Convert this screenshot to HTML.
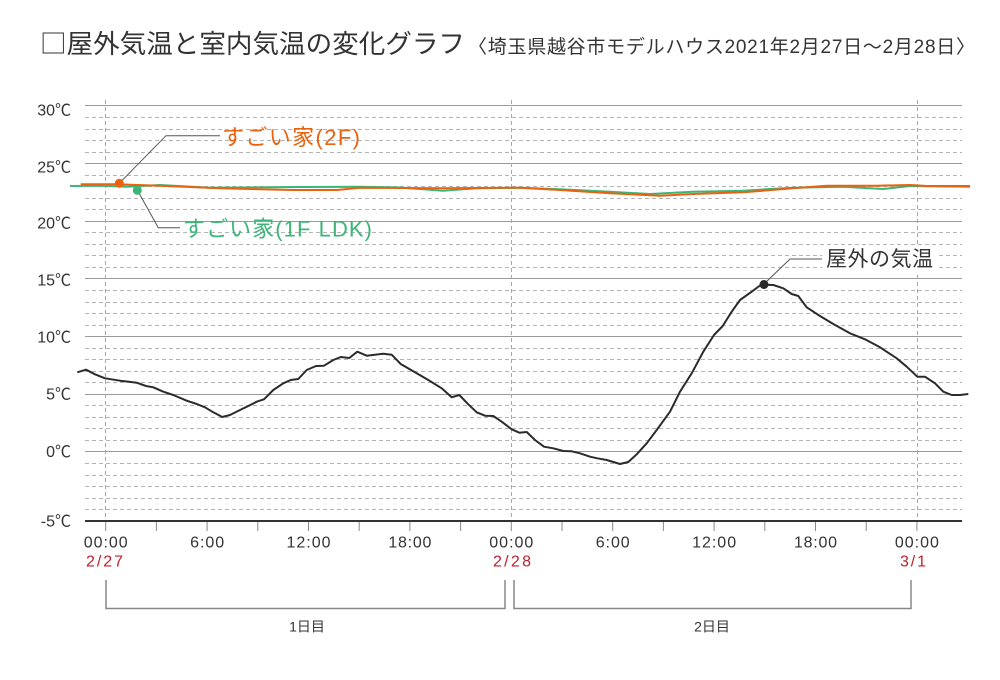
<!DOCTYPE html>
<html><head><meta charset="utf-8"><style>
html,body{margin:0;padding:0;background:#fff;}
svg{display:block;}
text{font-family:"Liberation Sans","Noto Sans CJK JP",sans-serif;}
</style></head><body>
<svg width="1000" height="680" viewBox="0 0 1000 680" xmlns="http://www.w3.org/2000/svg">
<rect width="1000" height="680" fill="#fff"/>
<!-- title -->
<text x="40" y="53" font-size="26" fill="#333" textLength="425" lengthAdjust="spacingAndGlyphs" style="font-family:'Noto Sans CJK JP',sans-serif">□屋外気温と室内気温の変化グラフ</text>
<text x="468" y="53" font-size="19" fill="#333" textLength="507" lengthAdjust="spacing">〈埼玉県越谷市モデルハウス2021年2月27日〜2月28日〉</text>

<!-- dashed horizontal grid -->
<g stroke="#b4b4b4" stroke-width="1" stroke-dasharray="4 3" fill="none">
<line x1="85" x2="962" y1="117.5" y2="117.5"/>
<line x1="85" x2="962" y1="129.5" y2="129.5"/>
<line x1="85" x2="962" y1="140.5" y2="140.5"/>
<line x1="85" x2="962" y1="152.5" y2="152.5"/>
<line x1="85" x2="962" y1="175.5" y2="175.5"/>
<line x1="85" x2="962" y1="186.5" y2="186.5"/>
<line x1="85" x2="962" y1="198.5" y2="198.5"/>
<line x1="85" x2="962" y1="209.5" y2="209.5"/>
<line x1="85" x2="962" y1="232.5" y2="232.5"/>
<line x1="85" x2="962" y1="244.5" y2="244.5"/>
<line x1="85" x2="962" y1="255.5" y2="255.5"/>
<line x1="85" x2="962" y1="267.5" y2="267.5"/>
<line x1="85" x2="962" y1="290.5" y2="290.5"/>
<line x1="85" x2="962" y1="302.5" y2="302.5"/>
<line x1="85" x2="962" y1="313.5" y2="313.5"/>
<line x1="85" x2="962" y1="325.5" y2="325.5"/>
<line x1="85" x2="962" y1="348.5" y2="348.5"/>
<line x1="85" x2="962" y1="359.5" y2="359.5"/>
<line x1="85" x2="962" y1="371.5" y2="371.5"/>
<line x1="85" x2="962" y1="382.5" y2="382.5"/>
<line x1="85" x2="962" y1="405.5" y2="405.5"/>
<line x1="85" x2="962" y1="417.5" y2="417.5"/>
<line x1="85" x2="962" y1="428.5" y2="428.5"/>
<line x1="85" x2="962" y1="440.5" y2="440.5"/>
<line x1="85" x2="962" y1="463.5" y2="463.5"/>
<line x1="85" x2="962" y1="475.5" y2="475.5"/>
<line x1="85" x2="962" y1="486.5" y2="486.5"/>
<line x1="85" x2="962" y1="498.5" y2="498.5"/>
<line x1="85" x2="962" y1="509.5" y2="509.5"/>
</g>
<!-- solid grid -->
<g stroke="#9a9a9a" stroke-width="1" fill="none">
<line x1="85" x2="962" y1="105.5" y2="105.5"/>
<line x1="85" x2="962" y1="163.5" y2="163.5"/>
<line x1="85" x2="962" y1="221.5" y2="221.5"/>
<line x1="85" x2="962" y1="278.5" y2="278.5"/>
<line x1="85" x2="962" y1="336.5" y2="336.5"/>
<line x1="85" x2="962" y1="394.5" y2="394.5"/>
<line x1="85" x2="962" y1="451.5" y2="451.5"/>
</g>
<!-- vertical dashed -->
<g stroke="#a8a8a8" stroke-width="1" stroke-dasharray="4 3" fill="none">
<line x1="105.5" x2="105.5" y1="100" y2="520"/>
<line x1="511.5" x2="511.5" y1="100" y2="520"/>
<line x1="917.5" x2="917.5" y1="100" y2="520"/>
</g>
<!-- axis -->
<line x1="85" x2="962" y1="521" y2="521" stroke="#333" stroke-width="2"/>
<g stroke="#8a8a8a" stroke-width="1">
<line x1="105.7" x2="105.7" y1="522" y2="531"/>
<line x1="156.4" x2="156.4" y1="522" y2="531"/>
<line x1="207.1" x2="207.1" y1="522" y2="531"/>
<line x1="257.8" x2="257.8" y1="522" y2="531"/>
<line x1="308.5" x2="308.5" y1="522" y2="531"/>
<line x1="359.2" x2="359.2" y1="522" y2="531"/>
<line x1="409.9" x2="409.9" y1="522" y2="531"/>
<line x1="460.6" x2="460.6" y1="522" y2="531"/>
<line x1="511.3" x2="511.3" y1="522" y2="531"/>
<line x1="562" x2="562" y1="522" y2="531"/>
<line x1="612.7" x2="612.7" y1="522" y2="531"/>
<line x1="663.4" x2="663.4" y1="522" y2="531"/>
<line x1="714.1" x2="714.1" y1="522" y2="531"/>
<line x1="764.8" x2="764.8" y1="522" y2="531"/>
<line x1="815.5" x2="815.5" y1="522" y2="531"/>
<line x1="866.2" x2="866.2" y1="522" y2="531"/>
<line x1="916.9" x2="916.9" y1="522" y2="531"/>
</g>

<!-- y labels -->
<g font-size="16" fill="#333" text-anchor="end">
<text x="71" y="115.5">30℃</text>
<text x="71" y="172.5">25℃</text>
<text x="71" y="228.5">20℃</text>
<text x="71" y="285.5">15℃</text>
<text x="71" y="342.5">10℃</text>
<text x="71" y="399.5">5℃</text>
<text x="71" y="457">0℃</text>
<text x="71" y="526.5">-5℃</text>
</g>
<!-- x labels -->
<g font-size="16" fill="#333" text-anchor="middle">
<text x="105.7" y="547.5" textLength="44" lengthAdjust="spacing">00:00</text>
<text x="207.1" y="547.5" textLength="34" lengthAdjust="spacing">6:00</text>
<text x="308.5" y="547.5" textLength="44" lengthAdjust="spacing">12:00</text>
<text x="409.9" y="547.5" textLength="43" lengthAdjust="spacing">18:00</text>
<text x="511.3" y="547.5" textLength="44" lengthAdjust="spacing">00:00</text>
<text x="612.7" y="547.5" textLength="34" lengthAdjust="spacing">6:00</text>
<text x="714.1" y="547.5" textLength="44" lengthAdjust="spacing">12:00</text>
<text x="815.5" y="547.5" textLength="43" lengthAdjust="spacing">18:00</text>
<text x="916.9" y="547.5" textLength="44" lengthAdjust="spacing">00:00</text>
</g>
<g font-size="16" fill="#c0202b" text-anchor="middle">
<text x="104.5" y="566.5" textLength="37" lengthAdjust="spacing">2/27</text>
<text x="512" y="566.5" textLength="38" lengthAdjust="spacing">2/28</text>
<text x="913" y="566.5" textLength="26" lengthAdjust="spacing">3/1</text>
</g>
<!-- brackets -->
<g stroke="#888" stroke-width="1.5" fill="none">
<path d="M106 580 V608.5 H505 V580"/>
<path d="M514 580 V608.5 H911 V580"/>
</g>
<g font-size="14" fill="#333" text-anchor="middle">
<text x="307" y="631.5">1日目</text>
<text x="712" y="631.5">2日目</text>
</g>

<!-- green indoor 1F -->
<polyline fill="none" stroke="#3cb577" stroke-width="2" stroke-linejoin="round" points="70,186 103,185.7 127,186.7 160,185 210,187.7 300,187 360,186.7 400,187.5 443,190.7 477,188.3 520,187.7 560,189.3 610,191.7 650,194 693,191.7 743,190.7 793,187.7 843,186.7 883,189 910,186 970,186.7"/>
<!-- orange indoor 2F -->
<polyline fill="none" stroke="#e9620f" stroke-width="2" stroke-linejoin="round" points="80.7,184.3 118,184.3 160,185.7 220,188.3 293,190 337,190 360,187.7 443,188.3 520,187.7 560,190 610,193.3 660,195.7 693,194 743,192.3 793,188.3 827,185.7 877,185.7 910,185 927,186 970,186"/>

<!-- outdoor -->
<polyline fill="none" stroke="#2d2a2a" stroke-width="2" stroke-linejoin="round" points="77.3,372.3 86,369.7 95,374.3 105,378.3 120,380.7 136.7,382.7 146,386 153.3,387.3 163.3,391.7 173.3,395 186.7,400.7 196.7,404 205,407.3 213.3,412.3 222.3,417 230,415 240,410 248.3,406 256.7,401.7 264,399.3 273.3,390 283.3,383.3 290.7,380 298.3,379 306.7,370 316,366 324,365.7 333.3,360 340.7,357 349.3,358 357.3,351.7 366.7,355.7 383.3,353.7 391.7,354.7 400.7,364 416.7,373.3 428.3,380 441.7,388.3 451.7,397.3 459.3,395 468.3,404.3 476.7,412.3 485,415.7 493.3,416 501.7,421.7 511.7,429.3 519.3,432.7 526.7,432 535,440 544,446.7 553.3,448.3 563.3,451 571.7,451.3 580,453.3 590,456.7 597.3,458.3 606.7,460 620,464 628.3,462 636.7,454.3 646.7,443.3 656.7,430 670,411.7 680,391.7 691.7,373.3 703.3,351.7 714,335 722.7,326 731.7,311.7 740,300 751.7,291.7 759.3,286 764,284.7 773.3,285 783.3,288.3 791.7,294 798.3,296 806.7,307.3 820,316 833.3,324 850,333.3 865,339.3 880,347.3 896.7,358.3 906.7,366.7 917.3,376.7 925,376.7 935,383.3 943.3,391.7 951.7,395 960,395 968.3,394"/>

<!-- annotations -->
<g stroke="#555" stroke-width="1" fill="none">
<path d="M119.3 183.3 L166 135.7 H220"/>
<path d="M137.3 190 L158.3 227.7 H180"/>
<path d="M764 284 L790 259 H822"/>
</g>
<circle cx="119.3" cy="183.3" r="4.5" fill="#e9620f"/>
<circle cx="137.3" cy="190.3" r="4.5" fill="#3cb577"/>
<circle cx="764" cy="284.5" r="4.5" fill="#2d2a2a"/>

<rect x="822" y="246" width="116" height="26" fill="#fff"/>
<text x="222" y="145" font-size="22" fill="#e9620f" textLength="138" lengthAdjust="spacing">すごい家(2F)</text>
<text x="183" y="236.5" font-size="22" fill="#3cb577" textLength="189" lengthAdjust="spacing">すごい家(1F LDK)</text>
<text x="826" y="266" font-size="21" fill="#333" textLength="107" lengthAdjust="spacing">屋外の気温</text>
</svg>
</body></html>
